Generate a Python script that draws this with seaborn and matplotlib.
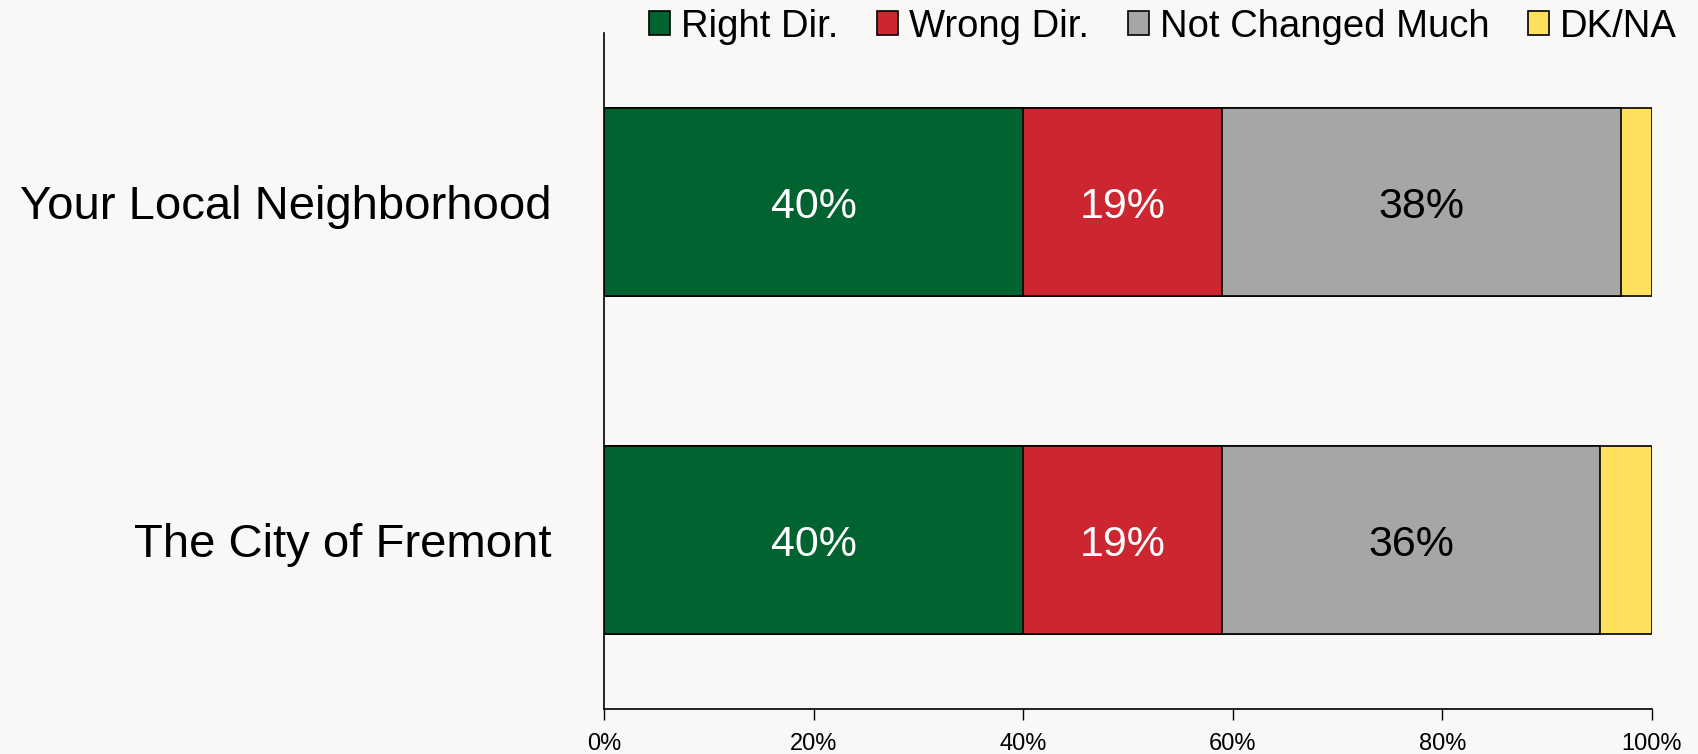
import numpy as np
import pandas as pd
import matplotlib
matplotlib.use("Agg")
import matplotlib.pyplot as plt
import seaborn as sns
from matplotlib.patches import Patch
from matplotlib.ticker import PercentFormatter

categories = ["Your Local Neighborhood", "The City of Fremont"]
series_names = ["Right Dir.", "Wrong Dir.", "Not Changed Much", "DK/NA"]
right_dir = [40, 40]
wrong_dir = [19, 19]
not_changed = [38, 36]
dk_na = [3, 5]
colors = ["#006330", "#CC2630", "#A6A6A6", "#FFE05C"]
label_colors = ["white", "white", "black", None]
x_ticks = [0, 20, 40, 60, 80, 100]

sns.set_theme(style="ticks")
plt.rcParams["font.family"] = ["Liberation Sans", "DejaVu Sans"]
plt.rcParams["text.color"] = "black"
bg = "#F9F8F6"

fig = plt.figure(figsize=(16.98, 7.54), dpi=100, facecolor=bg)
ax = fig.add_axes([0.3557, 0.0597, 0.6172, 0.8963])
ax.set_facecolor(bg)

vals = np.array([right_dir, wrong_dir, not_changed, dk_na], dtype=float)
cum = np.cumsum(vals, axis=0)

for i in reversed(range(len(series_names))):
    df = pd.DataFrame({"cat": categories, "val": cum[i]})
    sns.barplot(data=df, x="val", y="cat", orient="h", color=colors[i],
                saturation=1, width=0.556, edgecolor="black", linewidth=1.2,
                ax=ax, zorder=2)

for i in range(len(series_names)):
    if label_colors[i] is None:
        continue
    for j in range(len(categories)):
        start = cum[i][j] - vals[i][j]
        ax.text(start + vals[i][j] / 2, j + 0.015, f"{int(vals[i][j])}%",
                ha="center", va="center", fontsize=31, color=label_colors[i], zorder=3)

ax.set_xlim(0, 100)
ax.set_ylim(1.5, -0.5)
ax.set_xticks(x_ticks)
ax.xaxis.set_major_formatter(PercentFormatter(decimals=0))
ax.set_xlabel("")
ax.set_ylabel("")
ax.tick_params(axis="x", labelsize=17, length=8, width=1, colors="black", pad=9)
ax.tick_params(axis="y", labelsize=34, length=0, pad=38, colors="black")
for s in ["top", "right"]:
    ax.spines[s].set_visible(False)
for s in ["left", "bottom"]:
    ax.spines[s].set_color("black")
    ax.spines[s].set_linewidth(1.2)

handles = [Patch(facecolor=c, edgecolor="black", linewidth=1.2) for c in colors]
fig.legend(handles, series_names, loc="upper right", bbox_to_anchor=(1.008, 1.034),
           ncol=4, frameon=False, fontsize=27.5, handlelength=0.55, handleheight=0.6,
           handletextpad=0.3, columnspacing=1.0)

fig.savefig("out.png", dpi=100, facecolor=bg)
